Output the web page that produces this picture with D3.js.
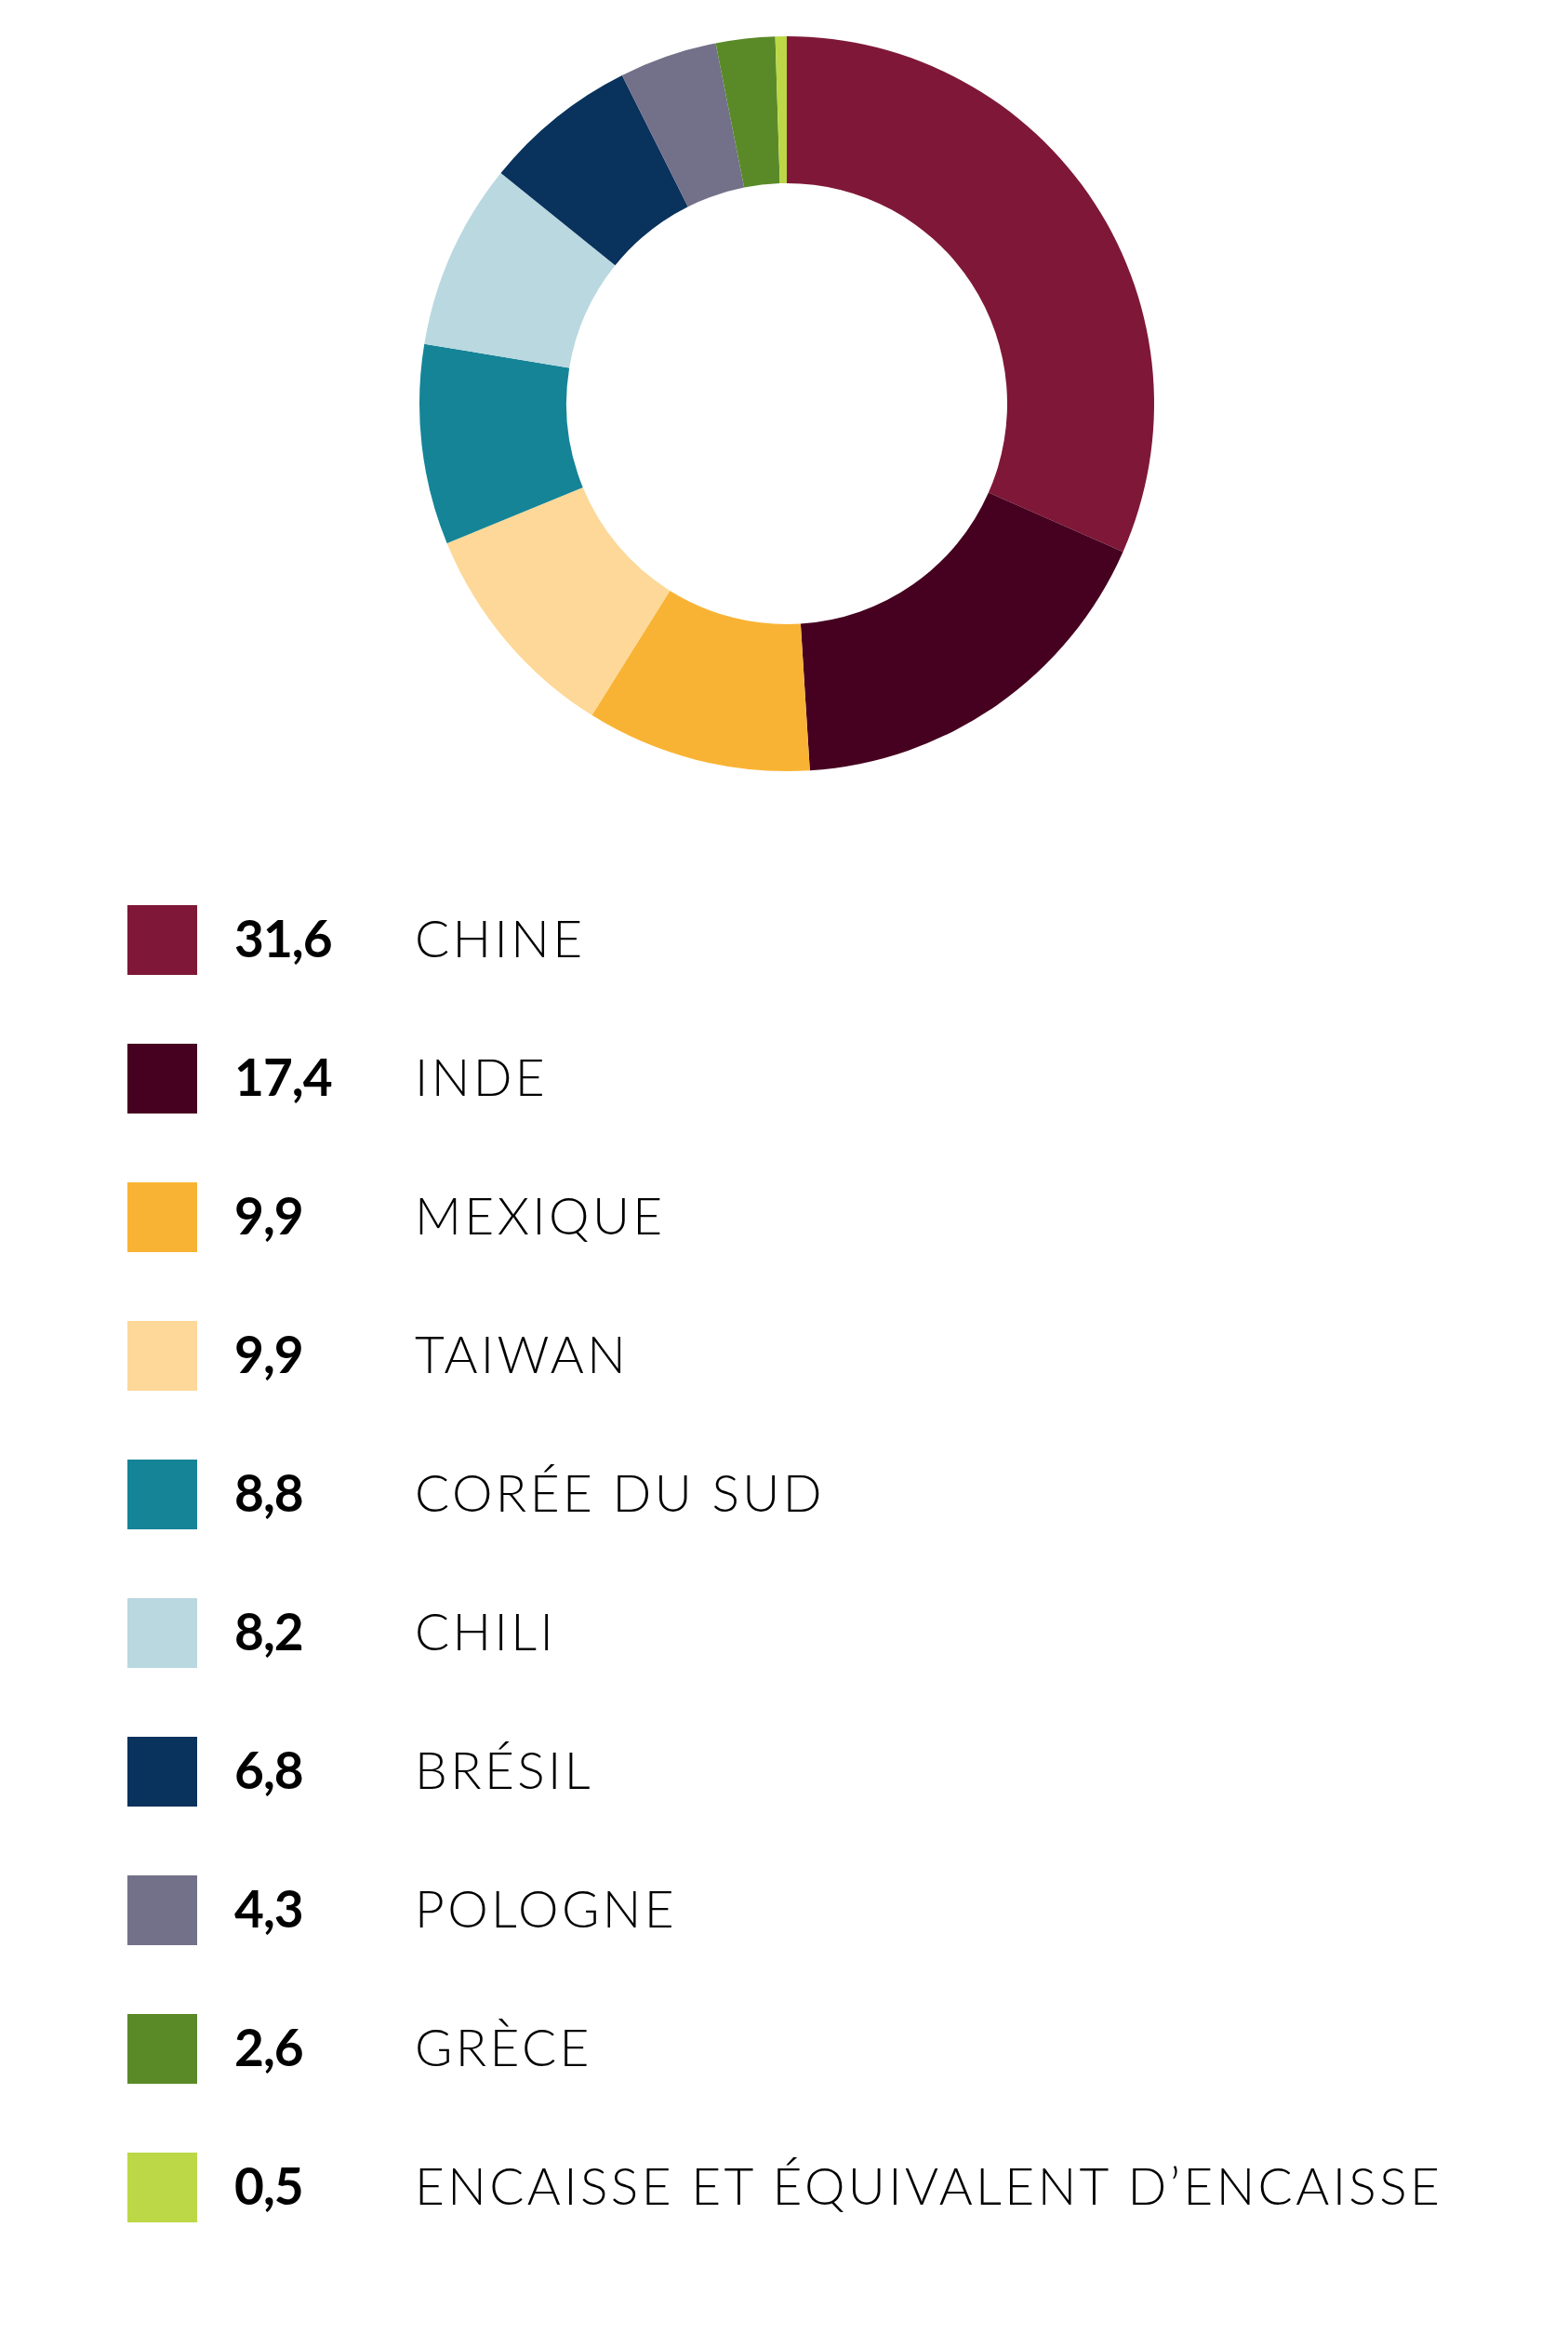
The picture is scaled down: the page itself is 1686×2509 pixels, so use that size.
<!DOCTYPE html>
<html>
<head>
<meta charset="utf-8">
<script src="https://cdn.jsdelivr.net/npm/d3@7"></script>
<style>
  html, body { margin: 0; padding: 0; background: #ffffff; }
  svg { display: block; }
</style>
</head>
<body>
<svg id="chart" width="1686" height="2509"></svg>
<script>
const categories = ["CHINE", "INDE", "MEXIQUE", "TAIWAN", "CORÉE DU SUD", "CHILI", "BRÉSIL", "POLOGNE", "GRÈCE", "ENCAISSE ET ÉQUIVALENT D’ENCAISSE"];
const values = [31.6, 17.4, 9.9, 9.9, 8.8, 8.2, 6.8, 4.3, 2.6, 0.5];
const colors = ["#7f1838", "#460020", "#f9b334", "#fdd898", "#158497", "#bad8e0", "#09325c", "#737089", "#5a8a28", "#bcd846"];

const svg = d3.select("#chart");
const cx = 846, cy = 434, outerR = 395, innerR = 237;

const data = categories.map((c, i) => ({ name: c, value: values[i], color: colors[i] }));

const pie = d3.pie().sort(null).value(d => d.value);
const arc = d3.arc().innerRadius(innerR).outerRadius(outerR);

svg.append("g")
  .attr("transform", `translate(${cx},${cy})`)
  .selectAll("path")
  .data(pie(data))
  .join("path")
  .attr("d", arc)
  .attr("fill", d => d.data.color);

const fmt = v => d3.format(".1f")(v).replace(".", ",");

const y = d3.scaleBand()
  .domain(categories)
  .range([973, 973 + 149 * categories.length])
  .paddingInner(0);

const rows = svg.append("g").selectAll("g")
  .data(data)
  .join("g")
  .attr("transform", d => `translate(0,${y(d.name)})`);

rows.append("rect")
  .attr("x", 137)
  .attr("y", 0)
  .attr("width", 75)
  .attr("height", 75)
  .attr("fill", d => d.color);

rows.append("text")
  .attr("x", 252)
  .attr("y", 56)
  .attr("font-family", "Lato, 'Open Sans', sans-serif")
  .attr("font-weight", 700)
  .attr("font-size", 55)
  .attr("letter-spacing", -1)
  .attr("fill", "#000")
  .text(d => fmt(d.value));

rows.append("text")
  .attr("x", 446)
  .attr("y", 56)
  .attr("font-family", "Lato, 'Open Sans', sans-serif")
  .attr("font-weight", 300)
  .attr("font-size", 55)
  .attr("letter-spacing", 3.4)
  .attr("fill", "#000")
  .text(d => d.name);
</script>
</body>
</html>
